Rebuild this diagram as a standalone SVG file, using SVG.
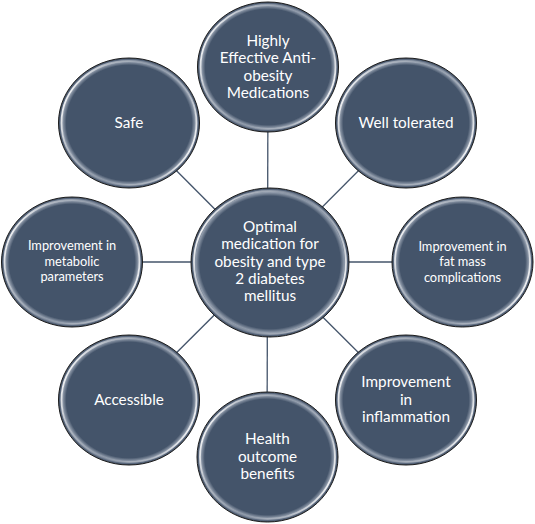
<svg xmlns="http://www.w3.org/2000/svg" width="535" height="524" viewBox="0 0 535 524">
  <defs>
    <radialGradient id="rim" cx="50%" cy="50%" r="50%">
      <stop offset="0" stop-color="#44546A"/>
      <stop offset="0.89" stop-color="#44546A"/>
      <stop offset="0.94" stop-color="#8e99a9"/>
      <stop offset="0.975" stop-color="#5d6b80"/>
      <stop offset="1" stop-color="#3b4a5f"/>
    </radialGradient>
    <linearGradient id="hl" x1="0" y1="0.3" x2="1" y2="0.7">
      <stop offset="0" stop-color="#ffffff" stop-opacity="0.95"/>
      <stop offset="0.2" stop-color="#ffffff" stop-opacity="0.4"/>
      <stop offset="0.5" stop-color="#ffffff" stop-opacity="0.08"/>
      <stop offset="0.8" stop-color="#ffffff" stop-opacity="0.4"/>
      <stop offset="1" stop-color="#ffffff" stop-opacity="0.95"/>
    </linearGradient>
  </defs>
  <style>
    .node { fill: url(#rim); stroke: #1c1c1c; stroke-width: 1; }
    .shine { fill: none; stroke: url(#hl); stroke-width: 1.8; }
    .conn { stroke: #44546A; stroke-width: 1.3; fill: none; }
    text { font-family: Lato, "Open Sans", "Liberation Sans", sans-serif; fill: #ffffff; text-anchor: middle; }
    .big { font-size: 15.3px; }
    .small { font-size: 12.8px; }
  </style>
  <rect width="535" height="524" fill="#ffffff"/>

  <g id="connectors">
    <line class="conn" x1="267.5" y1="262" x2="268" y2="67"/>
    <line class="conn" x1="267.5" y1="262" x2="406" y2="123"/>
    <line class="conn" x1="267.5" y1="262" x2="463" y2="262"/>
    <line class="conn" x1="267.5" y1="262" x2="406" y2="400"/>
    <line class="conn" x1="267.5" y1="262" x2="267" y2="457"/>
    <line class="conn" x1="267.5" y1="262" x2="129" y2="400"/>
    <line class="conn" x1="267.5" y1="262" x2="72" y2="262"/>
    <line class="conn" x1="267.5" y1="262" x2="129" y2="123"/>
  </g>

  <g id="node-center">
    <ellipse class="node" cx="270" cy="262.5" rx="79" ry="74.5"/>
    <ellipse class="shine" cx="270" cy="262.5" rx="76" ry="71.5"/>
    <text class="big" x="270" y="232">Optimal</text>
    <text class="big" x="270" y="249.3">medication for</text>
    <text class="big" x="270" y="266.6">obesity and type</text>
    <text class="big" x="270" y="284">2 diabetes</text>
    <text class="big" x="270" y="301.3">mellitus</text>
  </g>

  <g id="node-top">
    <ellipse class="node" cx="268" cy="67" rx="70.5" ry="65"/>
    <ellipse class="shine" cx="268" cy="67" rx="67.5" ry="62"/>
    <text class="big" x="268" y="46">Highly</text>
    <text class="big" x="268" y="63.4">Effective Anti-</text>
    <text class="big" x="268" y="80.8">obesity</text>
    <text class="big" x="268" y="98.2">Medications</text>
  </g>

  <g id="node-well-tolerated">
    <ellipse class="node" cx="406" cy="123" rx="70.5" ry="65"/>
    <ellipse class="shine" cx="406" cy="123" rx="67.5" ry="62"/>
    <text class="big" x="406" y="128.3">Well tolerated</text>
  </g>

  <g id="node-fat-mass">
    <ellipse class="node" cx="462.5" cy="262" rx="70.5" ry="65"/>
    <ellipse class="shine" cx="462.5" cy="262" rx="67.5" ry="62"/>
    <text class="small" x="462.5" y="250.7">Improvement in</text>
    <text class="small" x="462.5" y="266.2">fat mass</text>
    <text class="small" x="462.5" y="281.7">complications</text>
  </g>

  <g id="node-inflammation">
    <ellipse class="node" cx="406" cy="400" rx="70.5" ry="65"/>
    <ellipse class="shine" cx="406" cy="400" rx="67.5" ry="62"/>
    <text class="big" x="406" y="387.3">Improvement</text>
    <text class="big" x="406" y="404.7">in</text>
    <text class="big" x="406" y="422.1">inflammation</text>
  </g>

  <g id="node-health">
    <ellipse class="node" cx="267.5" cy="457" rx="70.5" ry="65"/>
    <ellipse class="shine" cx="267.5" cy="457" rx="67.5" ry="62"/>
    <text class="big" x="267.5" y="444.3">Health</text>
    <text class="big" x="267.5" y="461.7">outcome</text>
    <text class="big" x="267.5" y="479.1">benefits</text>
  </g>

  <g id="node-accessible">
    <ellipse class="node" cx="129" cy="400" rx="70.5" ry="65"/>
    <ellipse class="shine" cx="129" cy="400" rx="67.5" ry="62"/>
    <text class="big" x="129" y="405">Accessible</text>
  </g>

  <g id="node-metabolic">
    <ellipse class="node" cx="72" cy="262" rx="70.5" ry="65"/>
    <ellipse class="shine" cx="72" cy="262" rx="67.5" ry="62"/>
    <text class="small" x="72" y="250.3">Improvement in</text>
    <text class="small" x="72" y="265.5">metabolic</text>
    <text class="small" x="72" y="280.7">parameters</text>
  </g>

  <g id="node-safe">
    <ellipse class="node" cx="129" cy="123" rx="70.5" ry="65"/>
    <ellipse class="shine" cx="129" cy="123" rx="67.5" ry="62"/>
    <text class="big" x="129" y="128.3">Safe</text>
  </g>
</svg>
